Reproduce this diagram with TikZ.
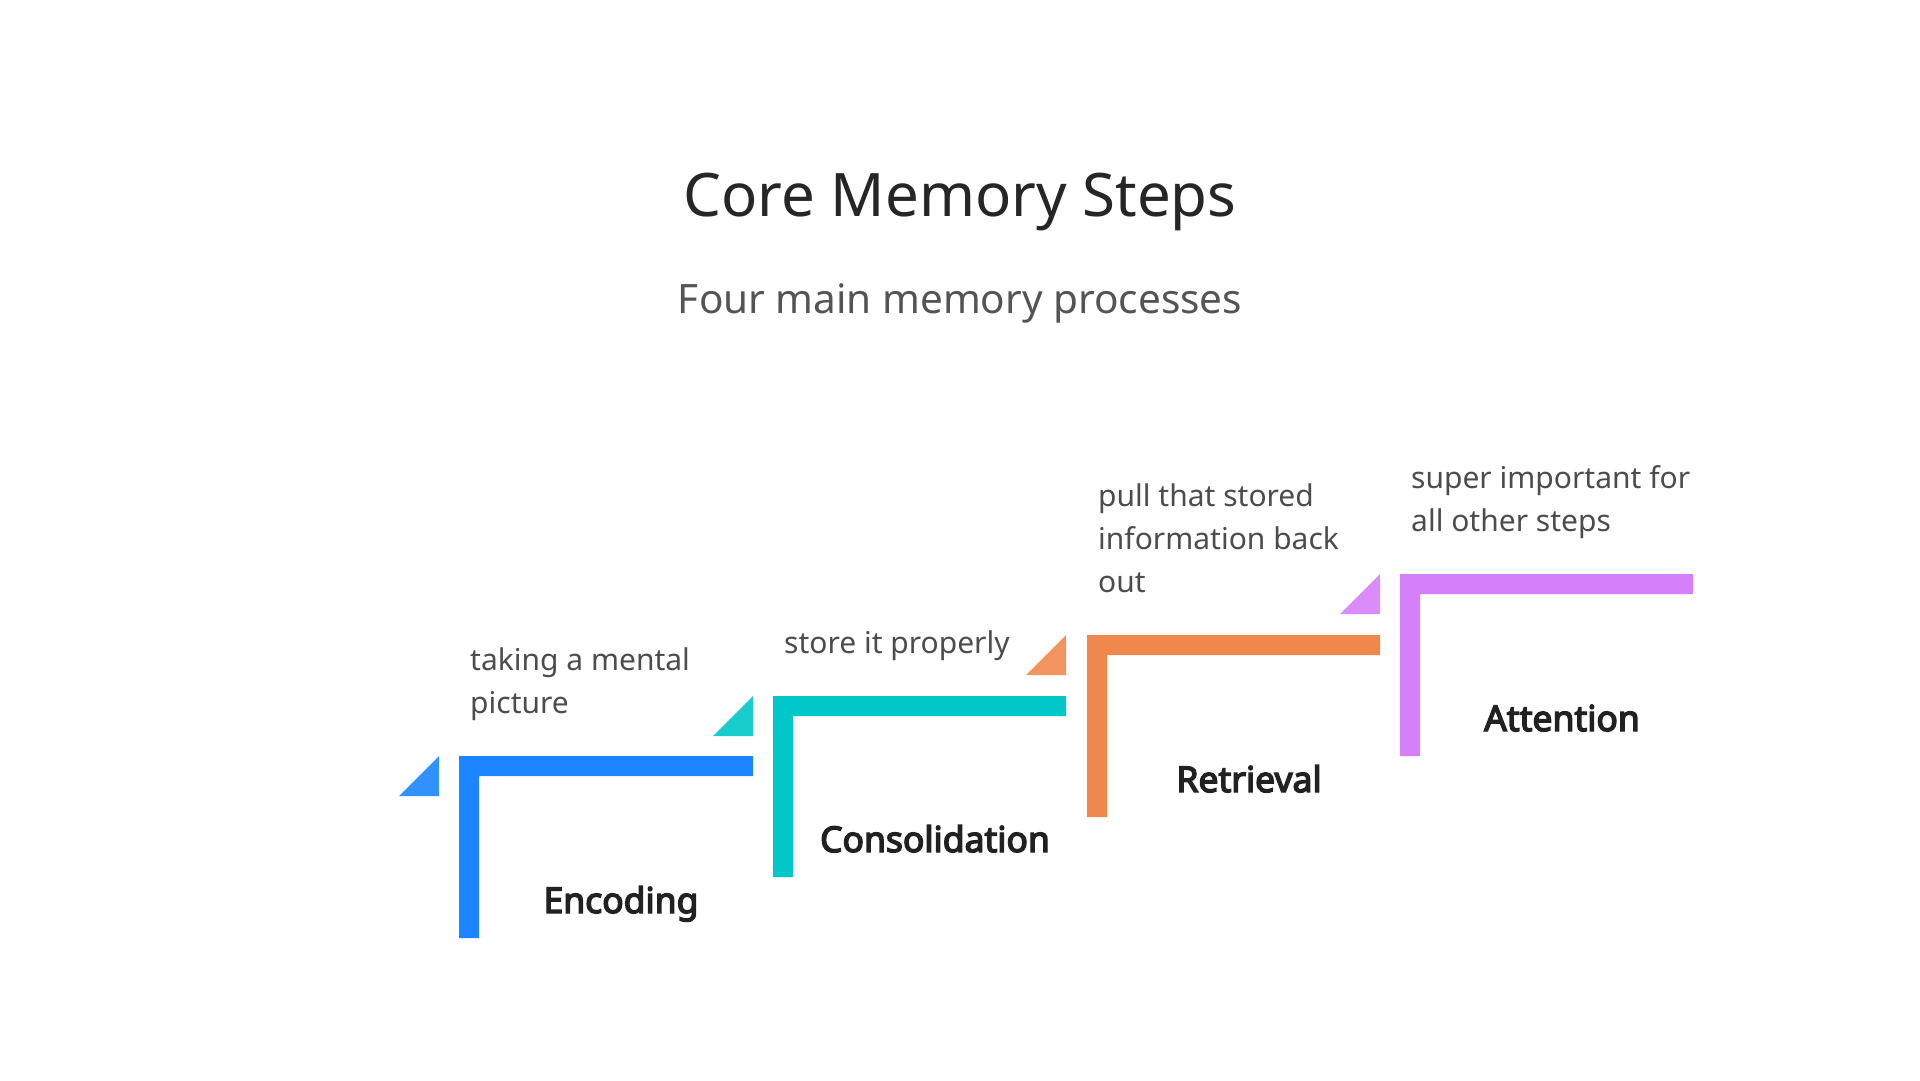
\documentclass[tikz,border=0pt]{standalone}
\usepackage{fontspec}
\setmainfont{Noto Sans}
\newfontfamily\stepfont{Noto Sans}[FakeBold=4]
\usetikzlibrary{positioning}

\definecolor{encblue}{HTML}{1A85FF}
\definecolor{contea}{HTML}{00C8C8}
\definecolor{retorange}{HTML}{F0884E}
\definecolor{attpurple}{HTML}{D580FA}

\begin{document}
\begin{tikzpicture}[
  x=1pt, y=-1pt,
  title/.style={font=\fontsize{60}{66}\selectfont, text=black!85},
  subtitle/.style={font=\fontsize{40.5}{46}\selectfont, text=black!67},
  desc/.style={font=\fontsize{30}{43}\selectfont, text=black!70, align=left, anchor=base west, inner sep=0pt},
  stepname/.style={font=\stepfont\fontsize{35.5}{42}\selectfont, text=black!87, anchor=base, inner sep=0pt},
  corner/.style={fill opacity=0.9},
]
\useasboundingbox (0,0) rectangle (1920,1080);

\node[title, anchor=base] (title) at (960, 216) {Core Memory Steps};
\node[subtitle, anchor=base] (sub) at (960, 313) {Four main memory processes};

% === Encoding ===
\fill[encblue, corner] (399,796) -- (439,756) -- (439,796) -- cycle;
\fill[encblue] (459,756) -- (753,756) -- (753,776) -- (479,776) -- (479,938) -- (459,938) -- cycle;
\node[desc] (d1) at (470, 713) {taking a mental\\picture};
\node[stepname] (s1) at (621, 913) {Encoding};

% === Consolidation ===
\fill[contea, corner] (713,736) -- (753,696) -- (753,736) -- cycle;
\fill[contea] (773,696) -- (1066,696) -- (1066,716) -- (793,716) -- (793,877) -- (773,877) -- cycle;
\node[desc] (d2) at (784, 653) {store it properly};
\node[stepname] (s2) at (935, 852) {Consolidation};

% === Retrieval ===
\fill[retorange, corner] (1026,675) -- (1066,635) -- (1066,675) -- cycle;
\fill[retorange] (1087,635) -- (1380,635) -- (1380,655) -- (1107,655) -- (1107,817) -- (1087,817) -- cycle;
\node[desc] (d3) at (1098, 592) {pull that stored\\information back\\out};
\node[stepname] (s3) at (1249, 792) {Retrieval};

% === Attention ===
\fill[attpurple, corner] (1340,614) -- (1380,574) -- (1380,614) -- cycle;
\fill[attpurple] (1400,574) -- (1693,574) -- (1693,594) -- (1420,594) -- (1420,756) -- (1400,756) -- cycle;
\node[desc] (d4) at (1411, 531) {super important for\\all other steps};
\node[stepname] (s4) at (1562, 731) {Attention};

\end{tikzpicture}
\end{document}
